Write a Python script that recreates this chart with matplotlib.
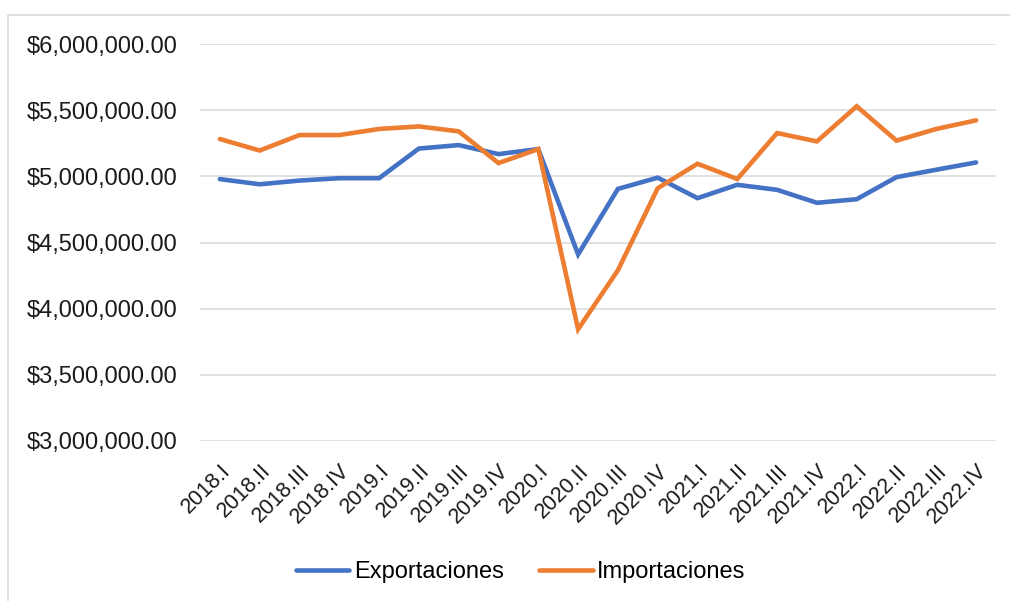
import matplotlib
matplotlib.use("Agg")
from matplotlib import pyplot as plt
from matplotlib.lines import Line2D
from matplotlib.ticker import FuncFormatter

plt.rcParams['font.family'] = ['Liberation Sans', 'DejaVu Sans']

quarters = ["2018.I", "2018.II", "2018.III", "2018.IV",
            "2019.I", "2019.II", "2019.III", "2019.IV",
            "2020.I", "2020.II", "2020.III", "2020.IV",
            "2021.I", "2021.II", "2021.III", "2021.IV",
            "2022.I", "2022.II", "2022.III", "2022.IV"]

exportaciones = [4979000, 4940000, 4968000, 4986000,
                 4986000, 5210000, 5236000, 5168000,
                 5206000, 4410000, 4905000, 4990000,
                 4835000, 4936000, 4898000, 4800000,
                 4827000, 4994000, 5050000, 5105000]

importaciones = [5282000, 5195000, 5312000, 5312000,
                 5358000, 5377000, 5340000, 5100000,
                 5206000, 3845000, 4290000, 4910000,
                 5095000, 4980000, 5327000, 5264000,
                 5529000, 5270000, 5358000, 5423000]

blue = "#4472C4"
orange = "#ED7D31"

fig = plt.figure(figsize=(10.10, 6.01), dpi=100)
ax = fig.add_axes([200 / 1010, 1 - 441 / 601, 796 / 1010, 397 / 601])

x = list(range(len(quarters)))
ax.plot(x, exportaciones, color=blue, lw=3.3, solid_capstyle='round',
        solid_joinstyle='miter', zorder=3)
ax.plot(x, importaciones, color=orange, lw=3.3, solid_capstyle='round',
        solid_joinstyle='miter', zorder=3)

ax.set_xlim(-0.5, len(quarters) - 0.5)
ax.set_ylim(3000000, 6000000)
ax.set_yticks(range(3000000, 6000001, 500000))
ax.yaxis.set_major_formatter(FuncFormatter(lambda v, p: "${:,.2f}".format(v)))
ax.grid(axis='y', color='#D9D9D9', lw=1.1)
ax.set_axisbelow(True)
for s in ax.spines.values():
    s.set_visible(False)
ax.tick_params(axis='y', length=0, pad=16, labelsize=17, labelcolor='#1a1a1a')
ax.tick_params(axis='x', length=0, pad=14, labelsize=15.5, labelcolor='#1a1a1a')
ax.set_xticks(x)
ax.set_xticklabels(quarters, rotation=45, ha='right', rotation_mode='anchor')

handles = [Line2D([], [], color=blue, lw=3.3, solid_capstyle='round'),
           Line2D([], [], color=orange, lw=3.3, solid_capstyle='round')]
fig.legend(handles, ["Exportaciones", "Importaciones"], loc='center',
           bbox_to_anchor=(521 / 1010, 1 - 572 / 601), ncol=2, frameon=False,
           fontsize=17, handlelength=2.25, handletextpad=0.2, columnspacing=1.5)

# chart border (top and left edges visible)
fig.add_artist(Line2D([8 / 1010, 8 / 1010, 1.0], [0.0, 1 - 15 / 601, 1 - 15 / 601],
                      transform=fig.transFigure, color='#D9D9D9', lw=1.2))

fig.savefig("out.png", dpi=100)
